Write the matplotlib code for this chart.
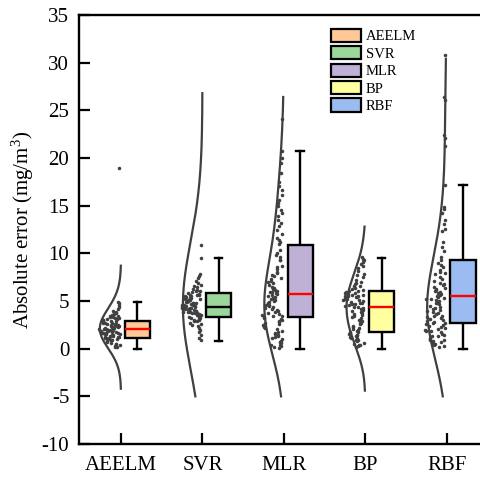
import numpy as np
import matplotlib
matplotlib.use('Agg')
import matplotlib.pyplot as plt
from matplotlib.patches import Patch

plt.rcParams['font.family'] = 'Liberation Serif'
plt.rcParams['mathtext.fontset'] = 'custom'
plt.rcParams['mathtext.rm'] = 'Liberation Serif'
plt.rcParams['mathtext.it'] = 'Liberation Serif:italic'
plt.rcParams['axes.unicode_minus'] = False

models = ['AEELM', 'SVR', 'MLR', 'BP', 'RBF']

# absolute errors (approximate)
aeelm = [2.31, 1.87, 0.95, 3.12, 2.64, 1.42, 0.38, 2.05, 4.83, 1.66, 2.92, 1.21, 3.47, 2.18, 0.71,
         1.95, 2.56, 1.08, 3.88, 2.41, 1.53, 0.22, 2.77, 1.34, 4.41, 2.09, 1.74, 3.02, 0.86, 2.47,
         1.15, 3.65, 2.23, 1.61, 0.54, 2.85, 1.98, 4.62, 1.27, 2.69, 3.21, 0.99, 2.13, 1.79, 3.34,
         2.52, 0.63, 1.45, 2.96, 2.01, 4.15, 1.12, 2.38, 1.69, 3.56, 0.47, 2.74, 1.88, 1.03, 3.09,
         2.27, 1.57, 4.92, 2.61, 0.81, 1.92, 3.41, 2.16, 1.38, 2.83, 0.15, 1.71, 3.97, 2.44, 1.24,
         2.59, 3.18, 1.83, 0.91, 2.35, 1.49, 3.73, 2.07, 1.17, 2.89, 1.63, 0.33, 2.49, 3.28, 1.96,
         18.9]
svr = [4.42, 3.81, 5.27, 2.96, 4.88, 6.12, 3.53, 4.15, 5.64, 1.12, 4.67, 3.36, 5.91, 4.03, 2.48,
       5.12, 3.72, 4.55, 6.43, 3.18, 4.96, 0.86, 5.38, 4.27, 3.64, 7.62, 4.74, 2.71, 5.53, 3.95,
       4.36, 6.08, 3.42, 5.04, 1.76, 4.61, 3.87, 5.76, 4.19, 2.34, 6.71, 3.26, 4.83, 5.21, 3.69,
       9.53, 4.49, 2.87, 5.45, 4.08, 3.51, 6.27, 4.71, 1.48, 5.09, 3.77, 4.31, 7.81, 3.09, 5.68,
       4.58, 2.59, 5.33, 3.98, 6.55, 4.24, 3.44, 4.92, 2.12, 5.86, 4.13, 3.61, 7.45, 4.79, 5.17,
       3.85, 10.86, 4.39, 2.95, 6.01, 3.33, 4.64, 5.49, 3.92, 1.95, 4.28, 6.86, 3.57, 5.01, 4.51,
       7.12, 3.02, 5.59, 4.46]
mlr = [5.71, 2.14, 8.36, 0.42, 4.63, 11.24, 3.05, 6.88, 1.37, 15.31, 4.12, 7.45, 0.18, 9.62, 3.54,
       5.22, 2.81, 13.52, 6.14, 1.02, 4.87, 20.73, 3.31, 7.93, 0.66, 5.48, 10.31, 2.47, 6.52, 1.74,
       17.02, 4.35, 8.71, 3.78, 0.09, 12.41, 5.93, 2.63, 7.12, 1.51, 14.21, 4.59, 9.27, 3.19, 6.37,
       0.83, 24.05, 5.11, 2.26, 11.02, 3.92, 7.68, 1.22, 16.12, 4.78, 6.02, 0.35, 8.55, 2.94, 13.91,
       5.37, 1.89, 19.51, 4.02, 6.71, 3.41, 0.57, 10.02, 5.82, 2.39, 12.82, 3.66, 7.28, 1.61, 16.63,
       4.44, 9.31, 2.71, 5.58, 0.27, 14.98, 3.85, 6.95, 1.15, 19.96, 4.27, 8.04, 3.12, 5.96, 2.05,
       11.63, 6.23, 0.74, 18.41, 4.95, 3.47, 7.57, 1.43, 9.84, 5.31, 12.05, 15.62, 13.18, 17.44,
       11.41, 14.55]
bp = [4.41, 1.23, 6.35, 2.87, 5.52, 0.41, 7.86, 3.64, 5.08, 1.71, 9.57, 4.83, 2.29, 6.02, 0.15,
      5.67, 3.18, 8.42, 1.46, 4.97, 6.74, 2.55, 5.31, 0.78, 4.12, 7.23, 1.94, 5.86, 3.41, 9.12,
      0.52, 4.65, 6.18, 2.08, 5.44, 1.58, 8.85, 3.87, 5.73, 0.96, 4.29, 6.91, 2.71, 5.19, 1.32,
      7.51, 4.55, 3.02, 5.95, 0.27, 4.78, 8.14, 1.85, 5.61, 2.43, 6.53, 1.09, 4.36, 9.38, 3.29,
      5.38, 0.63, 4.91, 7.02, 1.67, 5.79, 3.55, 6.27, 2.17, 4.49, 0.88, 8.63, 5.25, 1.41, 4.04,
      6.62, 2.96, 5.49, 0.34, 3.76, 7.68, 1.76, 5.12, 4.71, 2.64, 6.09, 1.17, 9.25, 3.96, 5.57]
rbf = [5.62, 1.84, 8.27, 3.41, 0.52, 6.93, 2.66, 11.2, 4.38, 1.15, 7.54, 3.02, 5.19, 14.9, 0.88,
       6.21, 2.31, 9.6, 4.77, 1.47, 30.77, 5.94, 3.28, 8.81, 0.24, 6.48, 2.09, 12.3, 4.11, 1.71,
       7.12, 3.59, 5.35, 22.4, 0.67, 9.02, 2.84, 6.66, 4.52, 1.29, 13.5, 3.86, 5.77, 0.41, 8.04,
       2.47, 17.16, 4.96, 1.96, 6.02, 3.17, 10.7, 5.48, 0.95, 26.4, 7.36, 2.58, 4.27, 1.58, 14.2,
       3.73, 6.34, 0.15, 8.53, 2.93, 5.06, 22.06, 1.38, 4.64, 7.81, 3.45, 12.6, 0.79, 5.87, 2.21,
       9.31, 4.02, 1.06, 14.6, 6.77, 3.11, 26.1, 5.25, 2.74, 10.2, 0.58, 4.83, 7.97, 1.89, 13.1,
       3.98, 6.11, 21.25, 2.39, 5.41]
errors = [aeelm, svr, mlr, bp, rbf]

# box statistics
q1 = [1.07, 3.35, 3.28, 1.70, 2.72]
med = [2.05, 4.40, 5.69, 4.36, 5.55]
q3 = [2.93, 5.83, 10.87, 6.07, 9.30]
whislo = [0.0, 0.80, 0.0, 0.0, 0.0]
whishi = [4.85, 9.50, 20.76, 9.50, 17.16]

box_colors = ['#ffc896', '#9bd69b', '#bfb0d6', '#ffffa0', '#9bbcf0']
median_colors = ['red', 'black', 'red', 'red', 'red']

# distribution curve settings
curve_lo = [-4.2, -5.0, -5.0, -4.4, -5.0]
curve_hi = [8.7, 26.8, 26.4, 12.8, 30.4]
curve_bw = [1.8, 6.5, 4.0, 2.2, 4.5]
curve_w = [0.26, 0.24, 0.24, 0.23, 0.24]


def kde(vals, grid, bw):
    v = np.asarray(vals)[:, None]
    return np.exp(-0.5 * ((np.asarray(grid)[None, :] - v) / bw) ** 2).sum(axis=0)


fig = plt.figure(figsize=(4.8, 4.79), dpi=100)
ax = fig.add_axes([79 / 480, 35 / 479, 401 / 480 + 0.01, 429 / 479])

pos = np.arange(1, len(models) + 1)
dark = '#404040'

for i, vals in enumerate(errors):
    p = pos[i]
    # half curve on the left
    grid = np.linspace(curve_lo[i], curve_hi[i], 300)
    d = kde(vals, grid, curve_bw[i])
    ax.plot(p - curve_w[i] * d / d.max(), grid, color=dark, lw=1.6, zorder=2)

    # jittered points, spread by local density
    y = np.asarray(vals)
    dn = kde(vals, y, 0.9)
    spread = 0.26 * dn / dn.max()
    u = (np.arange(len(y)) * 0.618034 + 0.31) % 1.0
    ax.scatter(p - 0.015 - spread * u, y, s=6.5, color=dark, linewidths=0, zorder=3)

stats = [dict(med=med[i], q1=q1[i], q3=q3[i], whislo=whislo[i], whishi=whishi[i], fliers=[])
         for i in range(len(models))]
bx = ax.bxp(stats, positions=pos + 0.2, widths=0.31, patch_artist=True, showfliers=False,
            capwidths=0.09,
            boxprops=dict(linewidth=1.7, edgecolor='black'),
            whiskerprops=dict(linewidth=1.7, color='black'),
            capprops=dict(linewidth=1.7, color='black'),
            medianprops=dict(linewidth=1.7))
for i, b in enumerate(bx['boxes']):
    b.set_facecolor(box_colors[i])
    b.set_zorder(4)
    bx['medians'][i].set_color(median_colors[i])
    bx['medians'][i].set_zorder(5)

ax.set_xlim(0.484, 5.468)
ax.set_ylim(-10, 35)
ax.set_yticks(np.arange(-10, 36, 5))
ax.set_xticks(pos)
ax.set_xticklabels(models)
ax.tick_params(direction='in', length=8, width=1.6, labelsize=15, pad=7)
ax.tick_params(axis='x', pad=9)
for s in ax.spines.values():
    s.set_linewidth(1.7)
ax.set_ylabel('Absolute error (mg/m$^3$)', fontsize=15, labelpad=4)

handles = [Patch(facecolor=box_colors[i], edgecolor='black', linewidth=1.6) for i in range(len(models))]
ax.legend(handles, models, loc='upper left', bbox_to_anchor=(0.622, 0.968), frameon=False,
          fontsize=10.5, handlelength=2.0, handleheight=1.0, handletextpad=0.35,
          labelspacing=0.2, borderpad=0, borderaxespad=0)

fig.savefig('out.png', dpi=100)
